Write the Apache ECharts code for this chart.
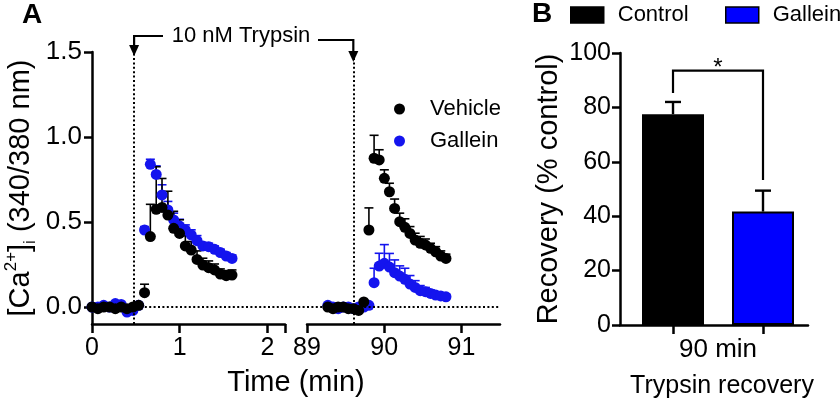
<!DOCTYPE html>
<html><head><meta charset="utf-8">
<script src="https://cdn.jsdelivr.net/npm/echarts@6/dist/echarts.min.js"></script>
<style>html,body{margin:0;padding:0;background:#fff}#c{width:840px;height:400px}</style>
</head><body><div id="c"></div>
<script>
// ---------- Panel A data ----------
const time1 = [0.000,0.067,0.133,0.200,0.266,0.333,0.399,0.466,0.532,0.599,0.665,0.732,0.798,0.865,0.931,0.998,1.064,1.131,1.197,1.264,1.330,1.397,1.463,1.530,1.596];
const vehicle1 = [0.00,-0.01,0.00,0.00,-0.01,0.00,-0.01,0.00,0.01,0.084,0.414,0.575,0.586,0.541,0.463,0.433,0.359,0.335,0.280,0.247,0.231,0.218,0.194,0.184,0.188];
const vehicle1Err = [0,0,0,0,0,0,0,0,0,0.05,0.19,0.25,0.17,0.14,0.10,0.08,0.06,0.05,0.05,0.04,0.04,0.035,0.03,0.03,0.03];
const gallein1 = [0.00,0.00,0.01,0.00,0.02,0.015,-0.03,-0.02,0.01,0.453,0.839,0.780,0.659,0.571,0.512,0.476,0.453,0.424,0.390,0.359,0.355,0.339,0.320,0.300,0.286];
const gallein1Err = [0,0,0,0,0,0,0,0,0,0.02,0.03,0.05,0.06,0.05,0.04,0.04,0.03,0.03,0.03,0.02,0.02,0.02,0.02,0.02,0.02];

const time2 = [89.270,89.337,89.403,89.470,89.536,89.603,89.669,89.736,89.802,89.869,89.935,90.002,90.068,90.135,90.201,90.268,90.334,90.401,90.467,90.534,90.600,90.667,90.733,90.800];
const vehicle2 = [0.00,-0.01,0.00,0.00,-0.01,-0.01,-0.02,0.03,0.453,0.875,0.865,0.757,0.678,0.580,0.502,0.469,0.433,0.394,0.375,0.365,0.345,0.325,0.300,0.286];
const vehicle2Err = [0,0,0,0,0,0,0,0,0.13,0.135,0.06,0.05,0.05,0.055,0.05,0.05,0.04,0.04,0.04,0.035,0.03,0.03,0.03,0.025];
const gallein2 = [0.01,0.00,-0.01,0.00,0.00,-0.01,0.00,0.00,0.01,0.143,0.241,0.257,0.235,0.202,0.182,0.163,0.135,0.115,0.096,0.090,0.080,0.070,0.065,0.060];
const gallein2Err = [0,0,0,0,0,0,0,0,0,0.085,0.075,0.11,0.08,0.075,0.06,0.065,0.05,0.04,0.03,0.025,0.02,0.02,0.015,0.015];

const injectTimes = [0.48, 89.6];
const yTicksA = [0, 0.5, 1.0, 1.5];
const xTicksA1 = [0, 1, 2];
const xTicksA2 = [89, 90, 91];

// ---------- Panel B data ----------
const groups = ['Control', 'Gallein'];
const recovery = [77.5, 41.7];
const recoveryErr = [4.5, 7.7];
const yTicksB = [0, 20, 40, 60, 80, 100];
const sigBracket = [0, 1, 93.5, 85.3, 53.3]; // left pos, right pos, top, left end, right end

const FONT = 'Liberation Sans, Arial, sans-serif';
const BLUE = '#0000ff';
const BLUE_PT = '#1414ee';

function errRender(color, capHalf, lw) {
  return function (params, api) {
    const x = api.value(0), y = api.value(1), e = api.value(2);
    if (!e) return null;
    const p0 = api.coord([x, y]), p1 = api.coord([x, y + e]);
    return { type: 'group', children: [
      { type: 'line', shape: { x1: p0[0], y1: p0[1], x2: p1[0], y2: p1[1] }, style: { stroke: color, lineWidth: lw } },
      { type: 'line', shape: { x1: p1[0] - capHalf, y1: p1[1], x2: p1[0] + capHalf, y2: p1[1] }, style: { stroke: color, lineWidth: lw } }
    ]};
  };
}
const zip3 = (t, v, e) => t.map((x, i) => [x, v[i], e[i]]);
const zip2 = (t, v) => t.map((x, i) => [x, v[i]]);

const axisLineStyle = { color: '#000', width: 2.5 };
const dotted = { color: '#000', width: 2, type: [2, 2.4] };
const legendText = (lh) => ({ fontSize: 22, color: '#000', fontFamily: FONT, lineHeight: lh });

const chart = echarts.init(document.getElementById('c'), null, { renderer: 'canvas' });

const option = {
  animation: false,
  backgroundColor: '#fff',
  textStyle: { fontFamily: FONT, color: '#000' },
  grid: [
    { left: 92, top: 52, width: 193, height: 272 },
    { left: 307, top: 52, width: 193, height: 272 },
    { left: 620, top: 53, width: 188, height: 272 }
  ],
  legend: [
    { data: [{ name: 'Vehicle', icon: 'circle' }], left: 394, top: 98, padding: 0, itemWidth: 11, itemHeight: 11,
      textStyle: Object.assign(legendText(11), { padding: [0, 0, 0, 20] }), selectedMode: false },
    { data: [{ name: 'Gallein', icon: 'circle' }], left: 394, top: 130, padding: 0, itemWidth: 11, itemHeight: 11,
      textStyle: Object.assign(legendText(11), { padding: [0, 0, 0, 20] }), selectedMode: false },
    { data: [{ name: 'Control', icon: 'rect', itemStyle: { color: '#000', borderColor: '#000', borderWidth: 1.5 } }],
      left: 570, top: 4, padding: 0, itemWidth: 33, itemHeight: 16,
      textStyle: Object.assign(legendText(16), { padding: [0, 0, 0, 9] }), selectedMode: false },
    { data: [{ name: 'Gallein (bar)', icon: 'rect', itemStyle: { color: BLUE, borderColor: '#000', borderWidth: 1.5 } }],
      left: 725, top: 4, padding: 0, itemWidth: 33, itemHeight: 16,
      formatter: n => n.replace(' (bar)', ''),
      textStyle: Object.assign(legendText(16), { padding: [0, 0, 0, 9] }), selectedMode: false }
  ],
  xAxis: [
    { type: 'value', gridIndex: 0, min: 0, max: 2.2,
      axisLine: { onZero: false, lineStyle: axisLineStyle },
      axisTick: { customValues: xTicksA1.concat([2.2]), length: 9, lineStyle: axisLineStyle },
      axisLabel: { customValues: xTicksA1, fontSize: 25, margin: 12, color: '#000', fontFamily: FONT },
      splitLine: { show: false } },
    { type: 'value', gridIndex: 1, min: 89, max: 91.5,
      axisLine: { onZero: false, lineStyle: axisLineStyle },
      axisTick: { customValues: xTicksA2, length: 9, lineStyle: axisLineStyle },
      axisLabel: { customValues: xTicksA2, fontSize: 25, margin: 12, color: '#000', fontFamily: FONT },
      splitLine: { show: false } },
    { type: 'value', gridIndex: 2, min: -0.589, max: 1.5,
      axisLine: { onZero: false, lineStyle: axisLineStyle },
      axisTick: { customValues: [0, 1], length: 9, lineStyle: axisLineStyle },
      axisLabel: { show: false },
      splitLine: { show: false } }
  ],
  yAxis: [
    { type: 'value', gridIndex: 0, min: -0.1, max: 1.5,
      axisLine: { show: true, onZero: false, lineStyle: axisLineStyle },
      axisTick: { show: true, customValues: yTicksA, length: 8, lineStyle: axisLineStyle },
      axisLabel: { customValues: yTicksA, formatter: v => v.toFixed(1), fontSize: 26, margin: 10, color: '#000', fontFamily: FONT },
      splitLine: { show: false },
      name: '[Ca{sup|2+}]{sub|i} (340/380 nm)', nameLocation: 'middle', nameGap: 53,
      nameTextStyle: { fontSize: 29, color: '#000', fontFamily: FONT, lineHeight: 36,
        rich: { sup: { fontSize: 17, verticalAlign: 'top', lineHeight: 22, fontFamily: FONT },
                sub: { fontSize: 17, verticalAlign: 'bottom', lineHeight: 22, fontFamily: FONT } } } },
    { type: 'value', gridIndex: 1, min: -0.1, max: 1.5, show: false, splitLine: { show: false } },
    { type: 'value', gridIndex: 2, min: 0, max: 100, interval: 20,
      axisLine: { show: true, onZero: false, lineStyle: axisLineStyle },
      axisTick: { show: true, length: 8, lineStyle: axisLineStyle },
      axisLabel: { fontSize: 25, margin: 9, color: '#000', fontFamily: FONT },
      splitLine: { show: false },
      name: 'Recovery (% control)', nameLocation: 'middle', nameGap: 57,
      nameTextStyle: { fontSize: 29, color: '#000', fontFamily: FONT } }
  ],
  series: [
    // error bars (drawn under dots)
    { type: 'custom', name: 'g1err', xAxisIndex: 0, yAxisIndex: 0, z: 2, data: zip3(time1, gallein1, gallein1Err),
      renderItem: errRender(BLUE_PT, 4.5, 1.6), encode: { x: 0, y: 1 }, silent: true },
    { type: 'custom', name: 'v1err', xAxisIndex: 0, yAxisIndex: 0, z: 3, data: zip3(time1, vehicle1, vehicle1Err),
      renderItem: errRender('#000', 4.5, 1.6), encode: { x: 0, y: 1 }, silent: true },
    { type: 'custom', name: 'g2err', xAxisIndex: 1, yAxisIndex: 1, z: 2, data: zip3(time2, gallein2, gallein2Err),
      renderItem: errRender(BLUE_PT, 4.5, 1.6), encode: { x: 0, y: 1 }, silent: true },
    { type: 'custom', name: 'v2err', xAxisIndex: 1, yAxisIndex: 1, z: 3, data: zip3(time2, vehicle2, vehicle2Err),
      renderItem: errRender('#000', 4.5, 1.6), encode: { x: 0, y: 1 }, silent: true },
    // dots
    { type: 'scatter', name: 'Gallein', xAxisIndex: 0, yAxisIndex: 0, z: 4, symbolSize: 11, data: zip2(time1, gallein1),
      itemStyle: { color: BLUE_PT, opacity: 1 },
      markLine: { silent: true, symbol: 'none', label: { show: false }, lineStyle: dotted,
        data: [{ xAxis: injectTimes[0] }, { yAxis: 0 }] } },
    { type: 'scatter', name: 'Vehicle', xAxisIndex: 0, yAxisIndex: 0, z: 5, symbolSize: 11, data: zip2(time1, vehicle1),
      itemStyle: { color: '#000', opacity: 1 } },
    { type: 'scatter', name: 'Gallein', xAxisIndex: 1, yAxisIndex: 1, z: 4, symbolSize: 11, data: zip2(time2, gallein2),
      itemStyle: { color: BLUE_PT, opacity: 1 },
      markLine: { silent: true, symbol: 'none', label: { show: false }, lineStyle: dotted,
        data: [{ xAxis: injectTimes[1] }, { yAxis: 0 }] } },
    { type: 'scatter', name: 'Vehicle', xAxisIndex: 1, yAxisIndex: 1, z: 5, symbolSize: 11, data: zip2(time2, vehicle2),
      itemStyle: { color: '#000', opacity: 1 } },
    // Panel B bars
    { type: 'bar', name: 'Control', xAxisIndex: 2, yAxisIndex: 2, barWidth: 62, barGap: '-100%',
      data: [[0, recovery[0]]], itemStyle: { color: '#000', borderColor: '#000', borderWidth: 2 } },
    { type: 'bar', name: 'Gallein (bar)', xAxisIndex: 2, yAxisIndex: 2, barWidth: 62, barGap: '-100%',
      data: [[1, recovery[1]]], itemStyle: { color: BLUE, borderColor: '#000', borderWidth: 2 } },
    { type: 'custom', name: 'barErr', xAxisIndex: 2, yAxisIndex: 2, z: 5, data: [[0, recovery[0], recoveryErr[0]], [1, recovery[1], recoveryErr[1]]],
      renderItem: errRender('#000', 8, 2.4), encode: { x: 0, y: 1 }, silent: true },
    { type: 'custom', name: 'sig', xAxisIndex: 2, yAxisIndex: 2, z: 5, data: [sigBracket], silent: true,
      encode: { x: [0, 1], y: [2, 3, 4] },
      renderItem: function (params, api) {
        const a = api.value(0), b = api.value(1), top = api.value(2), l = api.value(3), r = api.value(4);
        const pl = api.coord([a, l]), plt = api.coord([a, top]), prt = api.coord([b, top]), pr = api.coord([b, r]);
        return { type: 'group', children: [
          { type: 'polyline', shape: { points: [pl, plt, prt, pr] }, style: { stroke: '#000', lineWidth: 2.2, fill: null } },
          { type: 'text', x: (plt[0] + prt[0]) / 2, y: plt[1] - 2,
            style: { text: '*', fontSize: 24, fontFamily: FONT, fill: '#000', align: 'center', verticalAlign: 'middle' } }
        ]};
      } }
  ]
};
chart.setOption(option);

// annotations positioned through the axes
const px = (i, v) => chart.convertToPixel({ xAxisIndex: i }, v);
const py = (i, v) => chart.convertToPixel({ yAxisIndex: i }, v);
const x1 = px(0, injectTimes[0]), x2 = px(1, injectTimes[1]);
const zeroY = py(0, 0);
const gapL = px(0, 2.2), gapR = px(1, 89);
const midA = (px(0, 0) + px(1, 91.5)) / 2;
const midB = px(2, 0.5);
const lineSt = { stroke: '#000', lineWidth: 2.2, fill: null };

chart.setOption({
  graphic: [
    { type: 'text', x: 22, y: 15, style: { text: 'A', fontSize: 28, fontWeight: 'bold', fontFamily: FONT, fill: '#000', align: 'left', verticalAlign: 'middle' } },
    { type: 'text', x: 532, y: 14, style: { text: 'B', fontSize: 28, fontWeight: 'bold', fontFamily: FONT, fill: '#000', align: 'left', verticalAlign: 'middle' } },
    { type: 'line', shape: { x1: gapL, y1: zeroY, x2: gapR, y2: zeroY }, style: { stroke: '#000', lineWidth: 2, lineDash: [2, 2.4] } },
    { type: 'polyline', shape: { points: [[163, 36], [x1, 36], [x1, 47]] }, style: lineSt },
    { type: 'polygon', shape: { points: [[x1 - 5, 45], [x1 + 5, 45], [x1, 56]] }, style: { fill: '#000' } },
    { type: 'polyline', shape: { points: [[318, 40], [x2, 40], [x2, 53]] }, style: lineSt },
    { type: 'polygon', shape: { points: [[x2 - 5, 51], [x2 + 5, 51], [x2, 62]] }, style: { fill: '#000' } },
    { type: 'text', x: 241, y: 36, style: { text: '10 nM Trypsin', fontSize: 22, fontFamily: FONT, fill: '#000', align: 'center', verticalAlign: 'middle' } },
    { type: 'text', x: midA, y: 383, style: { text: 'Time (min)', fontSize: 29, fontFamily: FONT, fill: '#000', align: 'center', verticalAlign: 'middle' } },
    { type: 'text', x: midB, y: 350, style: { text: '90 min', fontSize: 26, fontFamily: FONT, fill: '#000', align: 'center', verticalAlign: 'middle' } },
    { type: 'text', x: midB + 4, y: 386, style: { text: 'Trypsin recovery', fontSize: 25, fontFamily: FONT, fill: '#000', align: 'center', verticalAlign: 'middle' } }
  ]
});
</script>
</body></html>
